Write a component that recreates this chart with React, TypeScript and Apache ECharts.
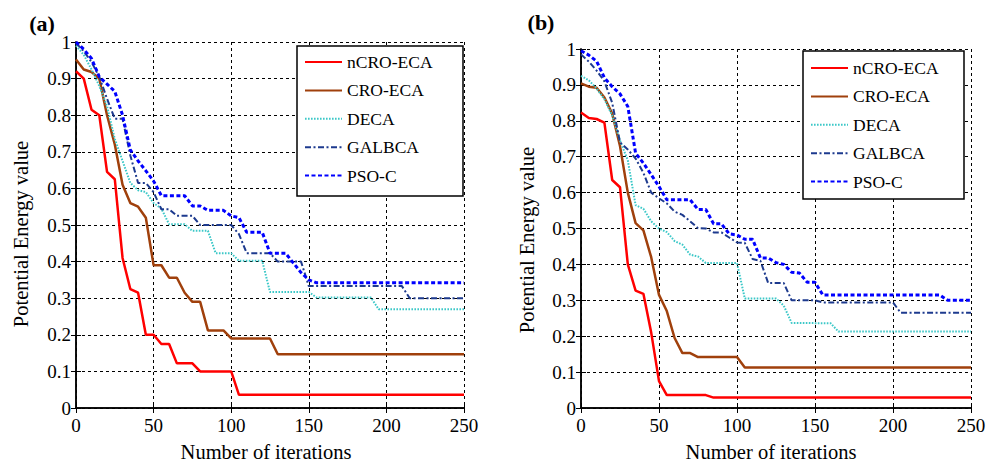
import React, { useEffect, useRef } from "react";
import * as echarts from "echarts";

const SERIES_NAMES = ["nCRO-ECA", "CRO-ECA", "DECA", "GALBCA", "PSO-C"];
const X_TICKS = [0, 50, 100, 150, 200, 250];

// Panel (a)
const A_NCRO: [number, number][] = [[0,0.92],[5,0.9],[10,0.815],[15,0.8],[20,0.645],[25,0.625],[30,0.41],[35,0.325],[40,0.315],[45,0.2],[50,0.2],[55,0.175],[60,0.175],[65,0.122],[75,0.122],[80,0.1],[100,0.1],[105,0.036],[250,0.036]];
const A_CRO: [number, number][] = [[0,0.952],[5,0.925],[10,0.918],[15,0.9],[20,0.8],[25,0.72],[30,0.61],[35,0.56],[40,0.55],[45,0.52],[50,0.39],[55,0.39],[60,0.356],[65,0.356],[70,0.315],[75,0.29],[80,0.29],[85,0.212],[95,0.212],[100,0.19],[125,0.19],[130,0.147],[250,0.147]];
const A_DECA: [number, number][] = [[0,0.99],[5,0.965],[10,0.925],[15,0.88],[20,0.825],[25,0.735],[30,0.675],[35,0.615],[40,0.595],[45,0.59],[50,0.56],[55,0.545],[60,0.502],[70,0.502],[75,0.484],[85,0.484],[90,0.423],[100,0.423],[105,0.402],[120,0.402],[125,0.317],[150,0.317],[155,0.302],[190,0.302],[195,0.27],[250,0.27]];
const A_GALB: [number, number][] = [[0,0.997],[5,0.975],[10,0.945],[15,0.905],[20,0.845],[25,0.79],[30,0.79],[35,0.69],[40,0.615],[45,0.615],[50,0.59],[55,0.543],[60,0.543],[65,0.525],[75,0.525],[80,0.5],[100,0.5],[105,0.475],[110,0.423],[125,0.423],[130,0.4],[145,0.4],[150,0.333],[210,0.333],[215,0.3],[250,0.3]];
const A_PSO: [number, number][] = [[0,1.0],[5,0.98],[10,0.955],[15,0.905],[20,0.885],[25,0.865],[30,0.8],[35,0.705],[40,0.675],[45,0.648],[50,0.62],[55,0.58],[70,0.58],[75,0.552],[80,0.552],[85,0.54],[95,0.54],[100,0.525],[105,0.52],[110,0.48],[120,0.48],[125,0.423],[135,0.423],[145,0.37],[150,0.35],[155,0.342],[250,0.342]];

// Panel (b)
const B_NCRO: [number, number][] = [[0,0.823],[5,0.808],[10,0.805],[15,0.795],[20,0.635],[25,0.615],[30,0.4],[35,0.327],[40,0.318],[45,0.21],[50,0.075],[55,0.036],[80,0.036],[85,0.029],[250,0.029]];
const B_CRO: [number, number][] = [[0,0.904],[5,0.895],[10,0.892],[15,0.865],[20,0.82],[25,0.73],[30,0.6],[35,0.515],[40,0.495],[45,0.42],[50,0.315],[55,0.27],[60,0.195],[65,0.153],[70,0.153],[75,0.142],[100,0.142],[105,0.113],[250,0.113]];
const B_DECA: [number, number][] = [[0,0.925],[5,0.913],[10,0.89],[15,0.86],[20,0.815],[25,0.745],[30,0.69],[35,0.565],[40,0.555],[45,0.52],[50,0.5],[55,0.49],[60,0.465],[65,0.455],[70,0.427],[75,0.422],[80,0.404],[100,0.404],[105,0.305],[125,0.305],[130,0.285],[135,0.237],[160,0.236],[165,0.213],[250,0.213]];
const B_GALB: [number, number][] = [[0,0.985],[5,0.965],[10,0.94],[15,0.91],[20,0.85],[25,0.74],[30,0.72],[35,0.695],[40,0.655],[45,0.6],[50,0.584],[55,0.57],[60,0.547],[65,0.538],[70,0.52],[75,0.501],[80,0.5],[85,0.489],[90,0.489],[95,0.475],[100,0.461],[105,0.46],[110,0.415],[115,0.41],[120,0.348],[130,0.348],[135,0.3],[150,0.3],[155,0.294],[200,0.294],[205,0.265],[250,0.265]];
const B_PSO: [number, number][] = [[0,0.995],[5,0.983],[10,0.966],[15,0.92],[20,0.895],[25,0.875],[30,0.84],[35,0.71],[40,0.682],[45,0.65],[50,0.617],[55,0.58],[70,0.58],[75,0.553],[80,0.553],[85,0.513],[90,0.513],[95,0.485],[100,0.482],[105,0.47],[110,0.47],[115,0.418],[120,0.418],[125,0.405],[130,0.4],[135,0.378],[140,0.376],[145,0.35],[150,0.35],[155,0.315],[230,0.315],[235,0.3],[250,0.3]];

const FONT = "'Liberation Serif', 'Times New Roman', serif";

const STYLES = [
  { color: "#ff0000", width: 2.5, type: "solid" as any },
  { color: "#a0400c", width: 2.5, type: "solid" as any },
  { color: "#3cc8c8", width: 2, type: [1.6, 1.4] as any },
  { color: "#1d3a8e", width: 2, type: [6, 2.5, 2, 2.5] as any },
  { color: "#0000ff", width: 3, type: [4, 2.5] as any },
];

export default function App() {
  const ref = useRef<HTMLDivElement>(null);
  useEffect(() => {
    if (!ref.current) return;
    const chart = echarts.init(ref.current, undefined, { renderer: "svg" });
    const grids = [
      { left: 76, top: 42, width: 388, height: 366 },
      { left: 581, top: 49, width: 390, height: 359 },
    ];
    const axisLine = { show: true, lineStyle: { color: "#000", width: 1.5 } };
    const split = { show: true, lineStyle: { color: "#000", width: 1, type: [3, 3] as any } };
    const tick = { show: true, inside: true, length: 5, lineStyle: { color: "#000" } };
    const xAxes: any[] = [];
    const yAxes: any[] = [];
    grids.forEach((_, gi) => {
      xAxes.push({
        type: "value", gridIndex: gi, min: 0, max: 250, interval: 50, position: "bottom",
        axisLine, axisTick: tick,
        axisLabel: { color: "#000", fontFamily: FONT, fontSize: 19, margin: 8, formatter: (v: number) => (X_TICKS.includes(v) ? String(v) : "") },
        splitLine: split,
      });
      xAxes.push({
        type: "value", gridIndex: gi, min: 0, max: 250, interval: 50, position: "top",
        axisLine, axisTick: tick, axisLabel: { show: false }, splitLine: { show: false },
      });
      yAxes.push({
        type: "value", gridIndex: gi, min: 0, max: 1, interval: 0.1, position: "left",
        axisLine, axisTick: tick,
        axisLabel: { color: "#000", fontFamily: FONT, fontSize: 19, margin: 5, formatter: (v: number) => String(Math.round(v * 10) / 10) },
        splitLine: split,
      });
      yAxes.push({
        type: "value", gridIndex: gi, min: 0, max: 1, interval: 0.1, position: "right",
        axisLine, axisTick: tick, axisLabel: { show: false }, splitLine: { show: false },
      });
    });
    const panels = [
      [A_NCRO, A_CRO, A_DECA, A_GALB, A_PSO],
      [B_NCRO, B_CRO, B_DECA, B_GALB, B_PSO],
    ];
    const series: any[] = [];
    panels.forEach((arrs, pi) => {
      arrs.forEach((d, si) => {
        series.push({
          type: "line", name: SERIES_NAMES[si], xAxisIndex: pi * 2, yAxisIndex: pi * 2,
          data: d, symbol: "none", showSymbol: false, smooth: false,
          lineStyle: { color: STYLES[si].color, width: STYLES[si].width, type: STYLES[si].type },
          itemStyle: { color: STYLES[si].color },
          z: 2 + si,
        });
      });
    });
    const legendCommon = {
      orient: "vertical", itemWidth: 37, itemHeight: 14, itemGap: 10.4,
      itemStyle: { opacity: 0 },
      textStyle: { color: "#000", fontFamily: FONT, fontSize: 17.5 },
      data: SERIES_NAMES, selectedMode: false,
    };
    chart.setOption({
      animation: false,
      backgroundColor: "#fff",
      grid: grids.map((g) => ({ ...g, show: false, containLabel: false })),
      xAxis: xAxes,
      yAxis: yAxes,
      series,
      legend: [
        { ...legendCommon, left: 304, top: 53, padding: 0, z: 20 },
        { ...legendCommon, left: 810, top: 59, padding: 0, z: 20 },
      ],
      graphic: [
        { type: "rect", shape: { x: 297, y: 46, width: 166, height: 150 }, style: { fill: "#fff", stroke: "#000", lineWidth: 1.5 }, z: 10 },
        { type: "rect", shape: { x: 803, y: 51, width: 161, height: 148 }, style: { fill: "#fff", stroke: "#000", lineWidth: 1.5 }, z: 10 },
        { type: "text", x: 42, y: 23, style: { text: "(a)", font: `bold 22px ${FONT}`, fill: "#000", align: "center", verticalAlign: "middle" } },
        { type: "text", x: 541, y: 22, style: { text: "(b)", font: `bold 22px ${FONT}`, fill: "#000", align: "center", verticalAlign: "middle" } },
        { type: "text", x: 21, y: 234, rotation: Math.PI / 2, style: { text: "Potential Energy value", font: `20.5px ${FONT}`, fill: "#000", align: "center", verticalAlign: "middle" } },
        { type: "text", x: 527, y: 240, rotation: Math.PI / 2, style: { text: "Potential Energy value", font: `20.5px ${FONT}`, fill: "#000", align: "center", verticalAlign: "middle" } },
        { type: "text", x: 266, y: 452, style: { text: "Number of iterations", font: `20.5px ${FONT}`, fill: "#000", align: "center", verticalAlign: "middle" } },
        { type: "text", x: 771, y: 452, style: { text: "Number of iterations", font: `20.5px ${FONT}`, fill: "#000", align: "center", verticalAlign: "middle" } },
      ],
    });
    return () => chart.dispose();
  }, []);
  return <div ref={ref} style={{ width: 999, height: 463, position: "absolute", left: 0, top: 0 }} />;
}
